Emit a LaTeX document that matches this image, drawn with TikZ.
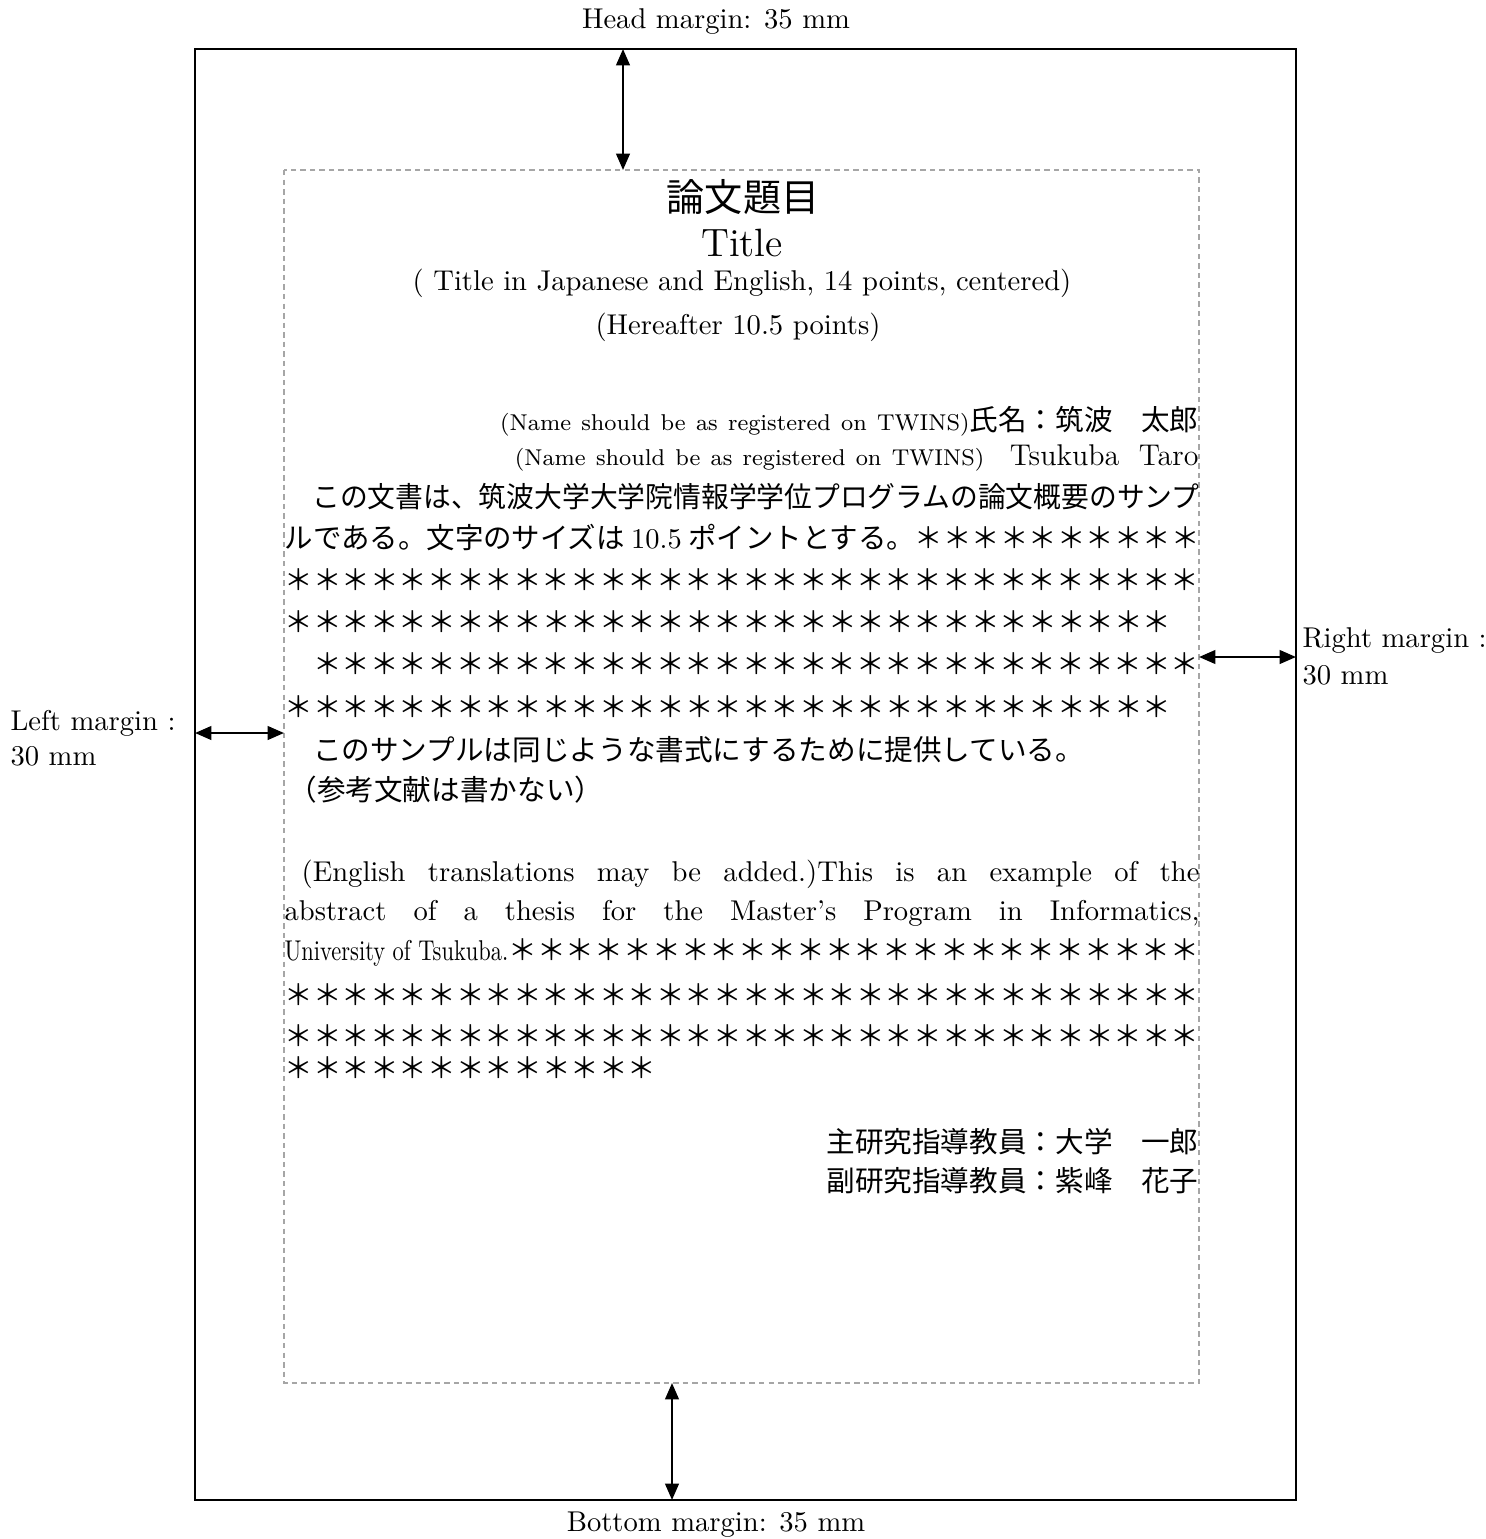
\documentclass[tikz,border=0pt]{standalone}
\usepackage{fontspec}
\usepackage{graphicx}
\usetikzlibrary{arrows.meta}
\newfontfamily\jp{Noto Sans CJK JP}
\newfontfamily\narrowrm{lmroman10-regular.otf}[FakeStretch=0.78]
\newlength\linew
\setlength\linew{335.8pt}
\newcommand\fitline[1]{\resizebox{\linew}{\height}{#1}}
\newcommand\asts[1]{\foreach \k in {1,...,#1}{＊}}

\begin{document}
\begin{tikzpicture}[x=0.367pt, y=-0.367pt,
    every node/.style={inner sep=0pt, font=\fontsize{10.5}{12}\selectfont},
    jtext/.style={font=\fontsize{10.5}{12}\selectfont\jp},
    etext/.style={font=\fontsize{10.5}{12}\selectfont},
    dimarrow/.style={line width=0.8pt, {Triangle[length=6pt,width=5pt]}-{Triangle[length=6pt,width=5pt]}}]
  \useasboundingbox (0,0) rectangle (1485,1539);

  % page and text area
  \draw[line width=0.8pt] (195,49) rectangle (1296,1500);
  \draw[gray!70, line width=0.5pt, dash pattern=on 2pt off 1.5pt] (284,170) rectangle (1199,1383);

  % margin arrows
  \coordinate (headtop) at (623,49);
  \coordinate (headbot) at (623,170);
  \coordinate (foottop) at (672,1383);
  \coordinate (footbot) at (672,1500);
  \coordinate (rightin) at (1199,657);
  \coordinate (rightout) at (1296,657);
  \coordinate (leftout) at (195,733);
  \coordinate (leftin) at (284,733);
  \draw[dimarrow] (headtop) -- (headbot);
  \draw[dimarrow] (foottop) -- (footbot);
  \draw[dimarrow] (rightin) -- (rightout);
  \draw[dimarrow] (leftout) -- (leftin);

  \node (headlbl) at (716,22) {Head margin: 35 mm};
  \node (footlbl) at (716,1525) {Bottom margin: 35 mm};
  \node[anchor=west] (rightlbl) at (1302,641) {Right margin :};
  \node[anchor=west] (rightmm) at (1302,675) {30 mm};
  \node[anchor=west] (leftlbl) at (10,723) {Left margin :};
  \node[anchor=west] (leftmm) at (10,756) {30 mm};

  % title block
  \node[jtext, font=\fontsize{14}{16}\selectfont\jp] (jtitle) at (743,197) {論文題目};
  \node[font=\fontsize{14.5}{17}\selectfont] (etitle) at (742,243) {Title};
  \node (titlenote) at (742,283) {( Title in Japanese and English, 14 points, centered)};
  \node (sizenote) at (738,327) {(Hereafter 10.5 points)};

  % names
  \node[anchor=east] (jname) at (1199,421)
    {{\fontsize{8.4}{10}\selectfont\spaceskip=0.45em(Name should be as registered on TWINS)}{\jp 氏名：筑波　太郎}};
  \node[anchor=east] (ename) at (1199,458)
    {{\fontsize{8.4}{10}\selectfont\spaceskip=0.45em(Name should be as registered on TWINS)}\hspace{0.9em}{\fontsize{11}{13}\selectfont Tsukuba\ \ Taro}};

  % Japanese abstract
  \node[jtext, anchor=west] (j1) at (284,497) {\fitline{　この文書は、筑波大学大学院情報学学位プログラムの論文概要のサンプ}};
  \node[jtext, anchor=west] (j2) at (284,538) {\fitline{ルである。文字のサイズは {\rmfamily 10.5} ポイントとする。\asts{10}}};
  \node[jtext, anchor=west] (j3) at (284,580) {\fitline{\asts{32}}};
  \node[jtext, anchor=west] (j4) at (284,622) {\asts{31}};
  \node[jtext, anchor=west] (j5) at (284,664) {\fitline{　\asts{31}}};
  \node[jtext, anchor=west] (j6) at (284,707) {\asts{31}};
  \node[jtext, anchor=west] (j7) at (284,750) {　このサンプルは同じような書式にするために提供している。};
  \node[jtext, anchor=west] (j8) at (288,790) {（参考文献は書かない）};

  % English abstract
  \node[etext, anchor=west] (e1) at (284,874) {\makebox[\linew][s]{\hspace{0.6em}(English translations may be added.)This is an example of the}};
  \node[etext, anchor=west] (e2) at (284,913) {\makebox[\linew][s]{abstract of a thesis for the Master’s Program in Informatics,}};
  \node[etext, anchor=west] (e3) at (284,953) {\fitline{{\narrowrm University of Tsukuba.}{\jp\asts{24}}}};
  \node[jtext, anchor=west] (e4) at (284,995) {\fitline{\asts{32}}};
  \node[jtext, anchor=west] (e5) at (284,1036) {\fitline{\asts{32}}};
  \node[jtext, anchor=west] (e6) at (284,1068) {\asts{13}};

  % supervisors
  \node[jtext, anchor=east] (sup1) at (1199,1142) {主研究指導教員：大学　一郎};
  \node[jtext, anchor=east] (sup2) at (1199,1181) {副研究指導教員：紫峰　花子};
\end{tikzpicture}
\end{document}
